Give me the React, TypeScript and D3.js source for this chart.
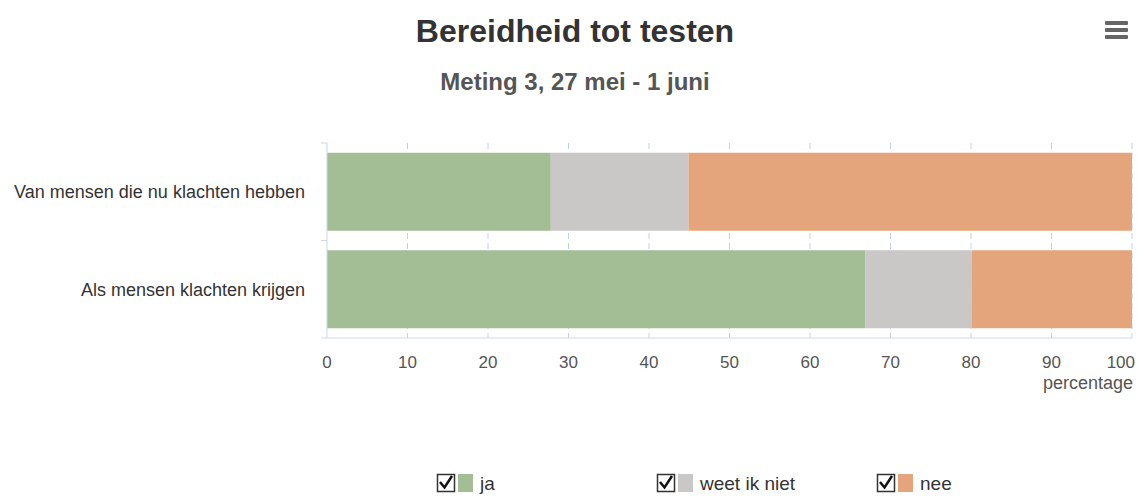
import React from "react";
import { scaleLinear, scaleBand, stack } from "d3";

const categories = ["Van mensen die nu klachten hebben", "Als mensen klachten krijgen"];
const seriesNames = ["ja", "weet ik niet", "nee"];
const ja = [27.8, 66.9];
const weetIkNiet = [17.1, 13.2];
const nee = [55.1, 19.9];
const xTicks = [0, 10, 20, 30, 40, 50, 60, 70, 80, 90, 100];
const colors = ["#a3bd94", "#c9c8c6", "#e5a57c"];

const width = 1138;
const height = 498;
const font = "'Liberation Sans Narrow', 'Arial Narrow', 'Liberation Sans', sans-serif";

const App = () => {
  const margin = { top: 143, right: 6, bottom: 160, left: 327 };
  const innerWidth = width - margin.left - margin.right;
  const innerHeight = height - margin.top - margin.bottom;

  const rows = categories.map((c, i) => ({ cat: c, ja: ja[i], weet: weetIkNiet[i], nee: nee[i] }));
  const keys = ["ja", "weet", "nee"];
  const stacked = stack<any>().keys(keys)(rows);

  const xScale = scaleLinear().domain([0, 100]).range([0, innerWidth]);
  const yScale = scaleBand().domain(categories).range([0, innerHeight]).paddingInner(0.2).paddingOuter(0.1);
  const boundaries = [0, innerHeight / 2, innerHeight];

  const legendX = [437, 657, 877];

  return (
    <svg width={width} height={height} style={{ display: "block", position: "absolute", left: 0, top: 0, background: "#fff" }}>
      <text x={575} y={42} textAnchor="middle" fontFamily={font} fontWeight="bold" fontSize={32} fill="#333">
        Bereidheid tot testen
      </text>
      <text x={575} y={90} textAnchor="middle" fontFamily={font} fontWeight="bold" fontSize={24} fill="#555">
        Meting 3, 27 mei - 1 juni
      </text>
      <g fill="#666">
        <rect x={1105} y={21} width={23} height={4} rx={1} />
        <rect x={1105} y={28} width={23} height={4} rx={1} />
        <rect x={1105} y={35} width={23} height={4} rx={1} />
      </g>

      <g transform={`translate(${margin.left}, ${margin.top})`}>
        {xTicks.slice(1).map(t => (
          <line key={t} x1={xScale(t)} x2={xScale(t)} y1={0} y2={innerHeight} stroke="#c4d0e8" strokeDasharray="6,4" />
        ))}
        {stacked.map((s, si) => (
          <g key={si} fill={colors[si]}>
            {s.map((d, i) => (
              <rect key={i} x={xScale(d[0])} y={yScale(categories[i])} width={xScale(d[1]) - xScale(d[0])} height={yScale.bandwidth()} />
            ))}
          </g>
        ))}
        <line x1={0} x2={innerWidth} y1={innerHeight} y2={innerHeight} stroke="#ccd6eb" />
        <line x1={0} x2={0} y1={0} y2={innerHeight} stroke="#ccd6eb" />
        {boundaries.map((b, i) => (
          <line key={i} x1={-6} x2={0} y1={b} y2={b} stroke="#ccd6eb" />
        ))}
        {categories.map(c => (
          <text key={c} x={-22} y={(yScale(c) ?? 0) + yScale.bandwidth() / 2} dy="0.35em" textAnchor="end" fontFamily={font} fontSize={18} fill="#333">
            {c}
          </text>
        ))}
        {xTicks.map(t => (
          <text key={t} x={xScale(t)} y={innerHeight + 30} textAnchor={t === 100 ? "end" : "middle"} dx={t === 100 ? 3 : 0} fontFamily={font} fontSize={17} fill="#555">
            {t}
          </text>
        ))}
        <text x={innerWidth + 1} y={innerHeight + 51} textAnchor="end" fontFamily={font} fontSize={18} fill="#555">
          percentage
        </text>
      </g>

      {seriesNames.map((n, i) => (
        <g key={n} transform={`translate(${legendX[i]}, 474)`}>
          <rect x={0.5} y={0.5} width={17} height={17} fill="#fff" stroke="#333" strokeWidth={1.5} />
          <path d="M3,8 L7.5,13.5 L15,2" fill="none" stroke="#111" strokeWidth={2.5} />
          <rect x={21} y={0} width={15} height={18} fill={colors[i]} />
          <text x={43} y={16} fontFamily={font} fontSize={19} fill="#333">
            {n}
          </text>
        </g>
      ))}
    </svg>
  );
};

export default App;
